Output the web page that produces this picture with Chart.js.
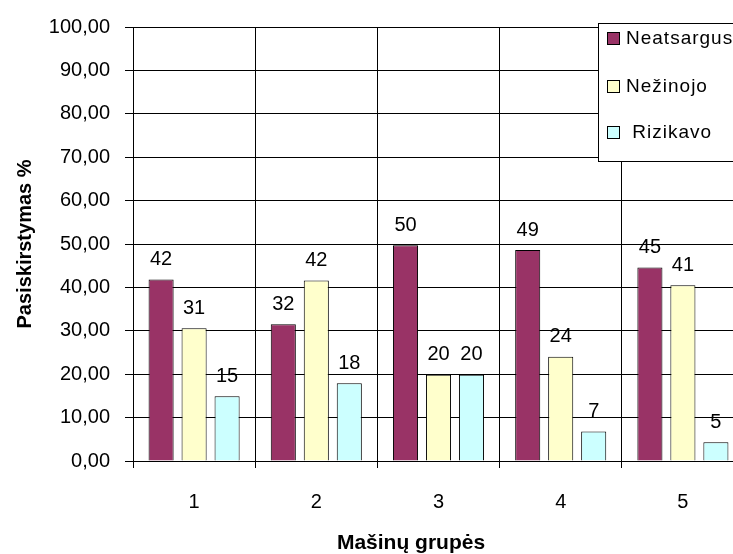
<!DOCTYPE html>
<html>
<head>
  <meta charset="utf-8">
  <title>Pasiskirstymas</title>
  <script src="https://cdn.jsdelivr.net/npm/chart.js"></script>
  <style>
    body { margin: 0; padding: 0; background: #fff; overflow: hidden; }
    #wrap { width: 760px; height: 554px; }
  </style>
</head>
<body>
  <div id="wrap">
    <canvas id="chart" width="760" height="554"></canvas>
  </div>
  <script>
    // Data
    const groups = ["1", "2", "3", "4", "5"];
    const seriesNames = ["Neatsargus", "Nežinojo", "Rizikavo"];
    const neatsargus = [41.8, 31.5, 49.7, 48.6, 44.6];
    const nezinojo = [30.6, 41.6, 19.9, 24.0, 40.5];
    const rizikavo = [14.9, 17.9, 19.9, 6.8, 4.3];
    const neatsargusLabels = ["42", "32", "50", "49", "45"];
    const nezinojoLabels = ["31", "42", "20", "24", "41"];
    const rizikavoLabels = ["15", "18", "20", "7", "5"];
    const yTicks = ["0,00", "10,00", "20,00", "30,00", "40,00", "50,00",
                    "60,00", "70,00", "80,00", "90,00", "100,00"];

    const FONT = "'Liberation Sans', Arial, sans-serif";
    const colors = ["#993366", "#FFFFCC", "#CCFFFF"];
    const valueLabels = [neatsargusLabels, nezinojoLabels, rizikavoLabels];

    // numbers above the bars
    const barLabels = {
      id: "barLabels",
      afterDatasetsDraw(chart) {
        const ctx = chart.ctx;
        ctx.save();
        ctx.font = "20px " + FONT;
        ctx.fillStyle = "#000";
        ctx.textAlign = "center";
        ctx.textBaseline = "middle";
        chart.data.datasets.forEach((ds, d) => {
          chart.getDatasetMeta(d).data.forEach((bar, i) => {
            ctx.fillText(valueLabels[d][i], bar.x, bar.y - 20);
          });
        });
        ctx.restore();
      }
    };

    // boxed legend in the top right corner + x axis title
    const boxLegend = {
      id: "boxLegend",
      afterDraw(chart) {
        const ctx = chart.ctx;
        ctx.save();
        ctx.fillStyle = "#fff";
        ctx.strokeStyle = "#000";
        ctx.lineWidth = 1;
        ctx.fillRect(598.5, 23.5, 200, 138);
        ctx.strokeRect(598.5, 23.5, 200, 138);
        ctx.font = "19px " + FONT;
        ctx.letterSpacing = "1px";
        ctx.textBaseline = "middle";
        const rowY = [39, 87, 133];
        chart.data.datasets.forEach((ds, d) => {
          ctx.fillStyle = ds.backgroundColor;
          ctx.fillRect(607.5, rowY[d] - 6.5, 12, 12);
          ctx.strokeRect(607.5, rowY[d] - 6.5, 12, 12);
          ctx.fillStyle = "#000";
          ctx.textAlign = "left";
          ctx.fillText((d === 2 ? " " : "") + ds.label, 626, rowY[d]);
        });
        ctx.letterSpacing = "0px";
        ctx.font = "bold 21px " + FONT;
        ctx.textAlign = "center";
        ctx.fillText("Mašinų grupės", 411, 543);
        ctx.restore();
      }
    };

    const ctx = document.getElementById("chart").getContext("2d");
    const chart = new Chart(ctx, {
      type: "bar",
      data: {
        labels: groups,
        datasets: [
          { label: seriesNames[0], data: neatsargus, backgroundColor: colors[0] },
          { label: seriesNames[1], data: nezinojo, backgroundColor: colors[1] },
          { label: seriesNames[2], data: rizikavo, backgroundColor: colors[2] }
        ].map(ds => Object.assign(ds, {
          borderColor: "#000",
          borderWidth: 1,
          categoryPercentage: 0.81,
          barPercentage: 0.76
        }))
      },
      options: {
        responsive: false,
        animation: false,
        layout: { padding: { top: 20, right: 16, left: 0, bottom: 0 } },
        plugins: {
          legend: { display: false },
          tooltip: { enabled: false }
        },
        scales: {
          x: {
            grid: { color: "#000", lineWidth: 1, tickLength: 7, offset: true },
            border: { color: "#000" },
            ticks: { color: "#000", font: { family: FONT, size: 20 }, padding: 22 },
            afterFit(scale) { scale.height = 93; }
          },
          y: {
            min: 0,
            max: 100,
            grid: { color: "#000", lineWidth: 1, tickLength: 8 },
            border: { color: "#000" },
            ticks: {
              stepSize: 10,
              color: "#000",
              padding: 15,
              font: { family: FONT, size: 20 },
              callback: (v, i) => yTicks[i]
            },
            title: {
              display: true,
              text: "Pasiskirstymas %",
              color: "#000",
              font: { family: FONT, size: 20, weight: "bold" },
              padding: { top: 13, bottom: 0 }
            },
            afterFit(scale) { scale.width = 133; }
          }
        }
      },
      plugins: [barLabels, boxLegend]
    });
  </script>
</body>
</html>
